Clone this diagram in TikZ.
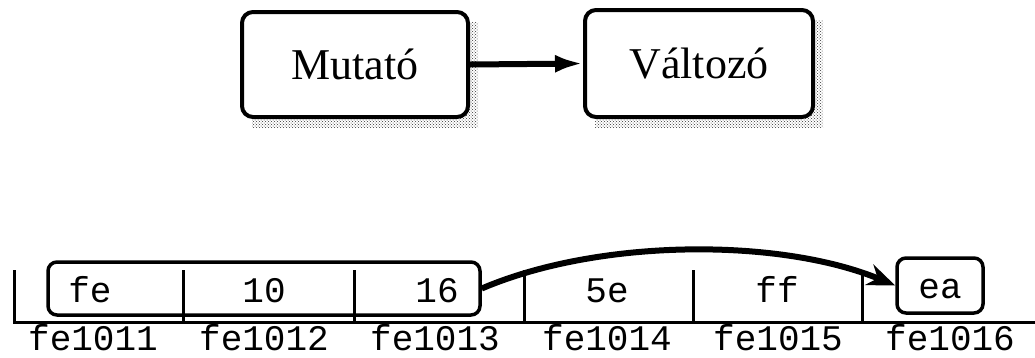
\documentclass[tikz,border=0pt]{standalone}
\usepackage{fontspec}
\setmainfont{Liberation Serif}
\newfontfamily\monof{Liberation Mono}
\usetikzlibrary{arrows.meta,patterns}
\begin{document}
\begin{tikzpicture}[x=1pt,y=-1pt,
  bigbox/.style={draw,line width=4pt,rounded corners=11pt,fill=white,minimum width=226pt,minimum height=105pt,inner sep=0pt,font=\fontsize{44}{48}\selectfont},
  shade/.style={pattern=crosshatch dots,pattern color=black!80,draw=none},
  membox/.style={draw,line width=3.5pt,rounded corners=9pt,inner sep=0pt},
  val/.style={font=\monof\fontsize{36}{38}\selectfont,inner sep=0pt,anchor=base},
  addr/.style={font=\monof\fontsize{36}{38}\selectfont,inner sep=0pt,anchor=base},
  memline/.style={line width=3pt},
  conn/.style={line width=6pt}]
\useasboundingbox (0,0) rectangle (1035,357);
% shadows
\fill[shade] (252,22) rectangle (478,127);
\fill[shade] (595,20) rectangle (823,127);
\node[bigbox] (mut) at (355,64.5) {Mutató};
\node[bigbox,minimum width=228pt,minimum height=107pt] (valt) at (699,63.5) {Változó};
\draw[conn,-{Latex[length=28pt,width=18pt]}] (mut.east) -- (valt.west);
% memory
\draw[memline] (14,270) -- (14,322) -- (1035,322);
\foreach \x in {183,354,524,693,862} \draw[memline] (\x,270) -- (\x,322);
\node[membox,minimum width=432pt,minimum height=53pt] (m) at (264,288.5) {};
\node[membox,minimum width=86pt,minimum height=55pt] (ea) at (940,285.5) {};
\node[val] (v1) at (90,302) {fe};
\node[val] (v2) at (264,302) {10};
\node[val] (v3) at (437,302) {16};
\node[val] (v4) at (607,302) {5e};
\node[val] (v5) at (777,302) {ff};
\node[val] (v6) at (940,298) {ea};
\node[addr] (a1) at (93,350) {fe1011};
\node[addr] (a2) at (264,350) {fe1012};
\node[addr] (a3) at (435,350) {fe1013};
\node[addr] (a4) at (607,350) {fe1014};
\node[addr] (a5) at (778,350) {fe1015};
\node[addr] (a6) at (950,350) {fe1016};
\draw[conn,-{Stealth[length=28pt,width=22pt]}] (m.east) .. controls (600,238) and (780,238) .. (ea.west);
\end{tikzpicture}
\end{document}
